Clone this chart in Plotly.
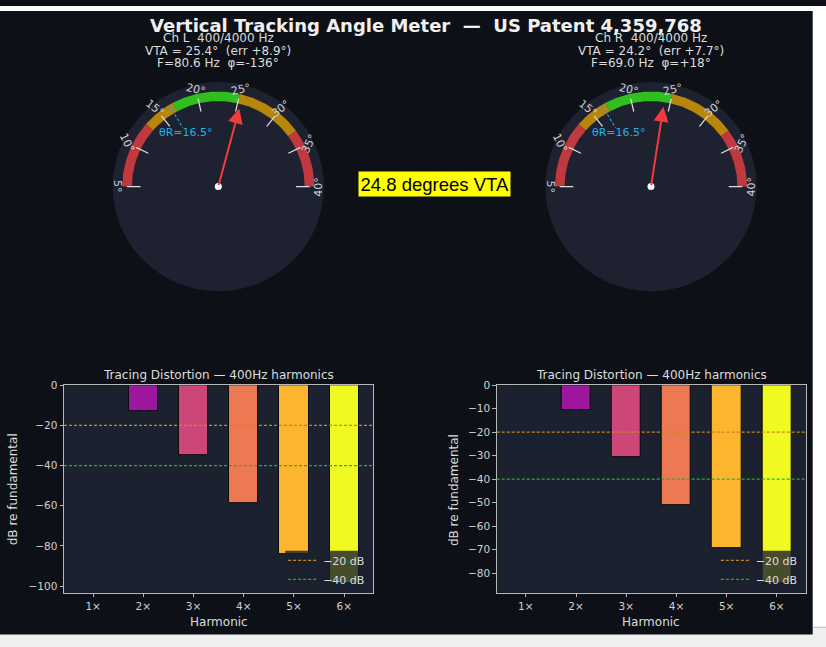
import numpy as np
import plotly.graph_objects as go

# values
harmonics = ["1×", "2×", "3×", "4×", "5×", "6×"]
dist_left = [0, -13.1, -34.6, -58.8, -84.1, -98.4]
dist_right = [0, -10.7, -30.5, -51.2, -69.2, -84.2]
ref_levels = [-20, -40]
ref_names = ["−20 dB", "−40 dB"]

dial_ticks = [5, 10, 15, 20, 25, 30, 35, 40]
zone_edges = [5, 13, 17, 25, 33, 40]
vta = [25.4, 24.2]
theta_r = 16.5
head_lines = [
    ["Ch L  400/4000 Hz", "VTA = 25.4°  (err +8.9°)", "F=80.6 Hz  φ=-136°"],
    ["Ch R  400/4000 Hz", "VTA = 24.2°  (err +7.7°)", "F=69.0 Hz  φ=+18°"],
]
overall_vta = 24.8

# styling
W, H = 826, 647
FIG_BG = "#0d1117"
AX_BG = "#1c2130"
TXT = "#dcdcdc"
FONT = "DejaVu Sans"
bar_colors = ["#6a00a8", "#9c179e", "#cc4778", "#ed7953", "#fdb42f", "#f0f921"]
zone_colors = ["#c0393f", "#b8860b", "#2fbf1f", "#b8860b", "#c0393f"]
ref_colors = ["#c8861e", "#2aae2a"]


def ang(v):
    # 5 deg on the left, 40 deg on the right of the half dial
    return np.pi - (v - 5) / 35 * np.pi


def px_x(p):
    return p / W


def px_y(p):
    return 1 - p / H


def label(x, y, text, size, color=TXT, **kw):
    d = dict(x=x, y=y, xref="paper", yref="paper", text=text, showarrow=False,
             xanchor="center", yanchor="middle",
             font=dict(family=FONT, size=size, color=color))
    d.update(kw)
    return d


fig = go.Figure()
annots = []
shapes = []

# ---------------- gauges ----------------
gauge_cx = [218.3, 651.0]
gauge_cy = 182.3
scale = 96.0  # px per dial unit
half = 1.2

for g in range(2):
    n = g + 3
    xa, ya = f"x{n}", f"y{n}"
    cx = gauge_cx[g]
    fig.update_layout(**{
        f"xaxis{n}": dict(domain=[px_x(cx - half * scale), px_x(cx + half * scale)],
                          range=[-half, half], visible=False, fixedrange=True),
        f"yaxis{n}": dict(domain=[px_y(gauge_cy + half * scale), px_y(gauge_cy - half * scale)],
                          range=[-half, half], visible=False, fixedrange=True),
    })
    shapes.append(dict(type="circle", xref=xa, yref=ya, x0=-1.1, y0=-1.1, x1=1.1, y1=1.1,
                       fillcolor="#1d2130", line_width=0, layer="below"))

    # coloured zones
    for i in range(len(zone_edges) - 1):
        t = np.linspace(ang(zone_edges[i]), ang(zone_edges[i + 1]), 40)
        xs = np.concatenate([np.cos(t), 0.9 * np.cos(t[::-1])])
        ys = np.concatenate([np.sin(t), 0.9 * np.sin(t[::-1])])
        fig.add_trace(go.Scatter(x=xs, y=ys, xaxis=xa, yaxis=ya, fill="toself",
                                 fillcolor=zone_colors[i], mode="lines", line_width=0,
                                 hoverinfo="skip", showlegend=False))

    # ticks and labels
    tx, ty = [], []
    for v in dial_ticks:
        a = ang(v)
        tx += [0.95 * np.cos(a), 0.81 * np.cos(a), None]
        ty += [0.95 * np.sin(a), 0.81 * np.sin(a), None]
        annots.append(dict(x=1.05 * np.cos(a), y=1.05 * np.sin(a), xref=xa, yref=ya,
                           text=f"{v}°", showarrow=False, textangle=np.degrees(a) - 90,
                           xanchor="center", yanchor="middle",
                           font=dict(family=FONT, size=11, color="#d0d0d0")))
    fig.add_trace(go.Scatter(x=tx, y=ty, xaxis=xa, yaxis=ya, mode="lines",
                             line=dict(color="#e0e0e0", width=1.2),
                             hoverinfo="skip", showlegend=False))

    # theta_R reference mark
    a = ang(theta_r)
    fig.add_trace(go.Scatter(x=[0.99 * np.cos(a), 0.72 * np.cos(a)],
                             y=[0.99 * np.sin(a), 0.72 * np.sin(a)],
                             xaxis=xa, yaxis=ya, mode="lines",
                             line=dict(color="#1aa9dc", width=1.1, dash="3px,2px"),
                             hoverinfo="skip", showlegend=False))
    annots.append(dict(x=0.66 * np.cos(a), y=0.66 * np.sin(a), xref=xa, yref=ya,
                       text=f"θR={theta_r}°", showarrow=False,
                       xanchor="center", yanchor="middle",
                       font=dict(family=FONT, size=11, color="#1ab4e8")))

    # needle
    a = ang(vta[g])
    annots.append(dict(x=0.85 * np.cos(a), y=0.85 * np.sin(a), xref=xa, yref=ya,
                       ax=0, ay=0, axref=xa, ayref=ya, text="", showarrow=True,
                       arrowhead=2, arrowsize=1.5, arrowwidth=2, arrowcolor="#f03c3c"))
    fig.add_trace(go.Scatter(x=[0], y=[0], xaxis=xa, yaxis=ya, mode="markers",
                             marker=dict(color="white", size=7), hoverinfo="skip",
                             showlegend=False))

    # header text
    for line, yy in zip(head_lines[g], [32.3, 45.5, 57.7]):
        annots.append(label(px_x(cx), px_y(yy), line, 12))

# ---------------- distortion bars ----------------
bar_x0 = [64.0, 496.7]
bar_w = 309.3
bar_top, bar_bot = 382.7, 592.3
y_ranges = [[-103.3, 0], [-88.4, 0]]
y_ticks = [list(range(0, -101, -20)), list(range(0, -81, -10))]

for g, dist in enumerate([dist_left, dist_right]):
    n = g + 1
    sfx = "" if n == 1 else str(n)
    xa, ya = f"x{sfx}", f"y{sfx}"
    lg = "legend" if n == 1 else "legend2"
    x0 = bar_x0[g]
    axis_common = dict(showline=True, mirror=True, linecolor="#b8b8b8", linewidth=1,
                       ticks="outside", ticklen=3.5, tickcolor="#b8b8b8", showgrid=False,
                       zeroline=False, fixedrange=True,
                       tickfont=dict(family=FONT, size=10.5, color="#d0d0d0"))
    fig.update_layout(**{
        f"xaxis{sfx}": dict(domain=[px_x(x0), px_x(x0 + bar_w)], range=[-0.58, 5.58],
                            anchor=ya, tickvals=list(range(len(harmonics))),
                            ticktext=harmonics, **axis_common),
        f"yaxis{sfx}": dict(domain=[px_y(bar_bot), px_y(bar_top)], range=y_ranges[g],
                            anchor=xa, tickvals=y_ticks[g],
                            ticktext=[str(v).replace("-", "−") for v in y_ticks[g]],
                            **axis_common),
    })
    # axes face
    shapes.append(dict(type="rect", xref=f"{xa} domain", yref=f"{ya} domain",
                       x0=0, x1=1, y0=0, y1=1, fillcolor=AX_BG, line_width=0, layer="below"))
    fig.add_trace(go.Bar(x=list(range(len(harmonics))), y=dist, width=0.58,
                         xaxis=xa, yaxis=ya, showlegend=False, hoverinfo="skip",
                         marker=dict(color=bar_colors, line=dict(color="#0a0a0a", width=1))))
    for lvl, name, col in zip(ref_levels, ref_names, ref_colors):
        shapes.append(dict(type="line", xref=f"{xa} domain", yref=ya, x0=0, x1=1,
                           y0=lvl, y1=lvl, line=dict(color=col, width=1.2, dash="3px,2px")))
        fig.add_trace(go.Scatter(x=[None], y=[None], xaxis=xa, yaxis=ya, mode="lines",
                                 name=name, legend=lg,
                                 line=dict(color=col, width=1.2, dash="3px,2px")))
    # semi-transparent legend frame, drawn over the bars
    shapes.append(dict(type="rect", xref=f"{xa} domain", yref=f"{ya} domain",
                       x0=0.715, x1=0.982, y0=0.049, y1=0.202,
                       fillcolor="rgba(28,33,48,0.8)", line_width=0, layer="above"))
    fig.update_layout(**{lg: dict(x=px_x(x0 + 0.715 * bar_w - 2), y=px_y(545),
                                  xanchor="left", yanchor="top", bgcolor="rgba(0,0,0,0)",
                                  borderwidth=0, itemwidth=30, tracegroupgap=0,
                                  font=dict(family=FONT, size=11, color=TXT))})

    cxp = x0 + bar_w / 2
    annots.append(label(px_x(cxp), px_y(372.3), "Tracing Distortion — 400Hz harmonics", 12))
    annots.append(label(px_x(cxp), px_y(621.3), "Harmonic", 12))
    annots.append(label(px_x([12.5, 453.3][g]), px_y(488.3), "dB re fundamental", 12,
                        textangle=-90))

# ---------------- titles ----------------
annots.append(label(px_x(426), px_y(19.5),
                    "<b>Vertical Tracking Angle Meter  —  US Patent 4,359,768</b>", 18,
                    color="#f0f0f0"))
annots.append(label(px_x(434), px_y(179.5), f"{overall_vta} degrees VTA", 18.5,
                    color="black", bgcolor="#ffff00", borderpad=1.5,
                    font=dict(family="Liberation Sans", size=18.5, color="black")))

# page frame around the figure
shapes += [
    dict(type="rect", xref="paper", yref="paper", x0=0, x1=1, y0=px_y(5), y1=1,
         fillcolor="white", line_width=0, layer="above"),
    dict(type="rect", xref="paper", yref="paper", x0=px_x(812.7), x1=1, y0=px_y(627), y1=1,
         fillcolor="white", line_width=0, layer="above"),
    dict(type="rect", xref="paper", yref="paper", x0=px_x(812.7), x1=1, y0=0, y1=px_y(627),
         fillcolor="#f0f0f0", line_width=0, layer="above"),
    dict(type="rect", xref="paper", yref="paper", x0=0, x1=1, y0=0, y1=px_y(634.3),
         fillcolor="#f0f0f0", line_width=0, layer="above"),
    dict(type="line", xref="paper", yref="paper", x0=px_x(812.7), x1=1,
         y0=px_y(627), y1=px_y(627), line=dict(color="#c8c8c8", width=1), layer="above"),
]

fig.update_layout(width=W, height=H, margin=dict(l=0, r=0, t=0, b=0),
                  paper_bgcolor=FIG_BG, plot_bgcolor=FIG_BG, bargap=0,
                  annotations=annots, shapes=shapes)

fig.write_html(
    "out.html",
    config={"displayModeBar": False},
    post_script=("document.documentElement.style.margin = '0';"
                 "document.body.style.margin = '0';"
                 "document.body.style.padding = '0';"
                 "document.body.style.overflow = 'hidden';"),
)
